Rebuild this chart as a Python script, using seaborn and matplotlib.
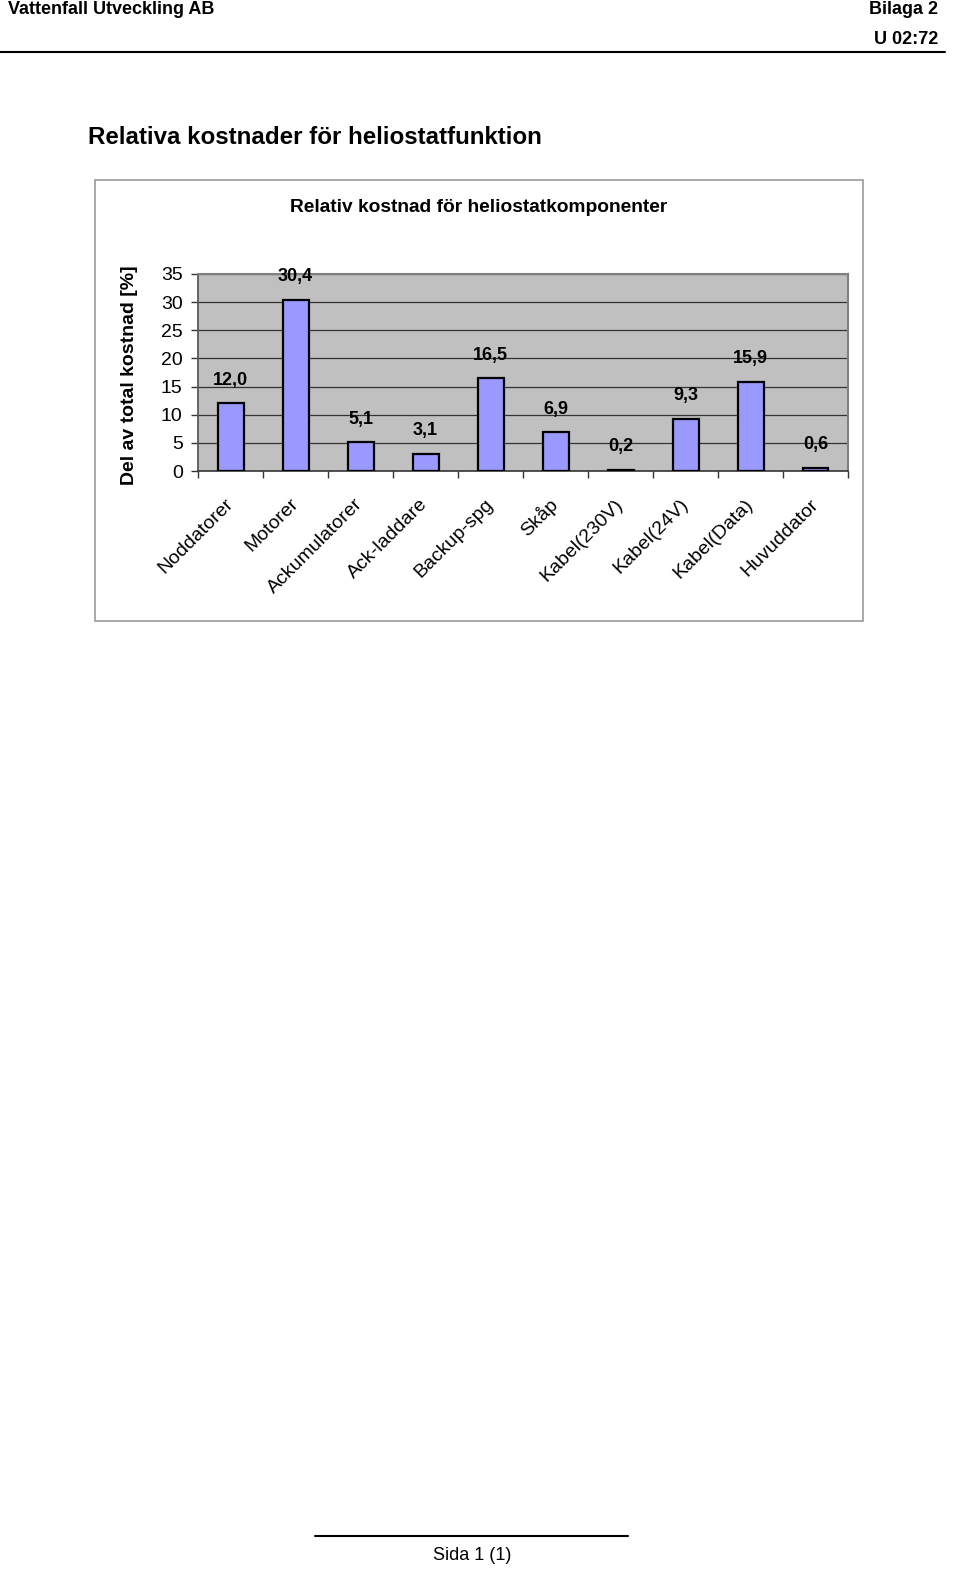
import matplotlib
matplotlib.use("Agg")
import matplotlib.pyplot as plt
import seaborn as sns
import pandas as pd
from matplotlib.patches import Rectangle
from matplotlib.lines import Line2D

categories = ["Noddatorer", "Motorer", "Ackumulatorer", "Ack-laddare", "Backup-spg",
              "Skåp", "Kabel(230V)", "Kabel(24V)", "Kabel(Data)", "Huvuddator"]
values = [12.0, 30.4, 5.1, 3.1, 16.5, 6.9, 0.2, 9.3, 15.9, 0.6]
value_labels = ["12,0", "30,4", "5,1", "3,1", "16,5", "6,9", "0,2", "9,3", "15,9", "0,6"]
yticks = [0, 5, 10, 15, 20, 25, 30, 35]

sns.set_theme(style="white")
plt.rcParams['font.family'] = ['Liberation Sans', 'DejaVu Sans']
plt.rcParams['text.color'] = 'black'
plt.rcParams['xtick.color'] = 'black'
plt.rcParams['ytick.color'] = 'black'
plt.rcParams['axes.labelcolor'] = 'black'

W, H = 960, 1593
fig = plt.figure(figsize=(W / 100, H / 100), dpi=100)

def fx(x):
    return x / W

def fy(y):
    return 1 - y / H

# header
fig.text(fx(8), fy(10), "Vattenfall Utveckling AB", fontsize=13, fontweight="bold", ha="left", va="center")
fig.text(fx(938), fy(10), "Bilaga 2", fontsize=13, fontweight="bold", ha="right", va="center")
fig.text(fx(938), fy(39), "U 02:72", fontsize=13, fontweight="bold", ha="right", va="center")
fig.add_artist(Line2D([fx(0), fx(945)], [fy(52), fy(52)], color="black", lw=1.5, transform=fig.transFigure))
fig.text(fx(88), fy(137), "Relativa kostnader för heliostatfunktion", fontsize=17.4, fontweight="bold",
         ha="left", va="center")

# chart box
fig.add_artist(Rectangle((fx(95), fy(621)), (863 - 95) / W, (621 - 180) / H, transform=fig.transFigure,
                         facecolor="white", edgecolor="#999999", lw=1.2, zorder=0))
fig.text(fx(479), fy(207), "Relativ kostnad för heliostatkomponenter", fontsize=13.8, fontweight="bold",
         ha="center", va="center")
fig.text(fx(129), fy(375), "Del av total kostnad [%]", fontsize=14, fontweight="bold",
         ha="center", va="center", rotation=90)

ax = fig.add_axes([fx(198), fy(471), (848 - 198) / W, (471 - 274) / H])
df = pd.DataFrame({"cat": categories, "val": values})
sns.barplot(data=df, x="cat", y="val", ax=ax, color="#9999FF", edgecolor="black", linewidth=1.6,
            width=0.4, saturation=1, zorder=3)
ax.set_facecolor("#C0C0C0")
ax.set_ylim(0, 35)
ax.set_xlim(-0.5, len(categories) - 0.5)
ax.set_yticks(yticks)
ax.set_yticklabels([str(t) for t in yticks], fontsize=14)
for t in yticks[1:]:
    ax.axhline(t, color="#333333", lw=0.9, zorder=1)
ax.set_xlabel("")
ax.set_ylabel("")
ax.set_xticks(range(len(categories)))
ax.set_xticklabels(categories, rotation=45, ha="right", va="center", rotation_mode="anchor", fontsize=14)
ax.tick_params(axis="x", which="major", length=0, pad=22)
ax.set_xticks([i - 0.5 for i in range(len(categories) + 1)], minor=True)
ax.tick_params(axis="x", which="minor", length=5, width=1, color="#333333", direction="out", bottom=True)
ax.tick_params(axis="y", length=5, width=1, color="#333333", direction="out", left=True, pad=6)
for s in ["top", "right"]:
    ax.spines[s].set_color("#808080")
    ax.spines[s].set_linewidth(1.5)
ax.spines["left"].set_color("#555555")
ax.spines["bottom"].set_color("#333333")
ax.spines["bottom"].set_linewidth(1.2)

for i, (v, lab) in enumerate(zip(values, value_labels)):
    ax.annotate(lab, (i, v), xytext=(0, 16.5), textcoords="offset points", ha="center", va="center",
                fontsize=13, fontweight="bold", annotation_clip=False)

# footer
fig.add_artist(Line2D([fx(315), fx(628)], [fy(1536), fy(1536)], color="black", lw=1.5, transform=fig.transFigure))
fig.text(fx(472), fy(1556), "Sida 1 (1)", fontsize=13, ha="center", va="center")

fig.savefig("out.png", dpi=100, facecolor="white")
